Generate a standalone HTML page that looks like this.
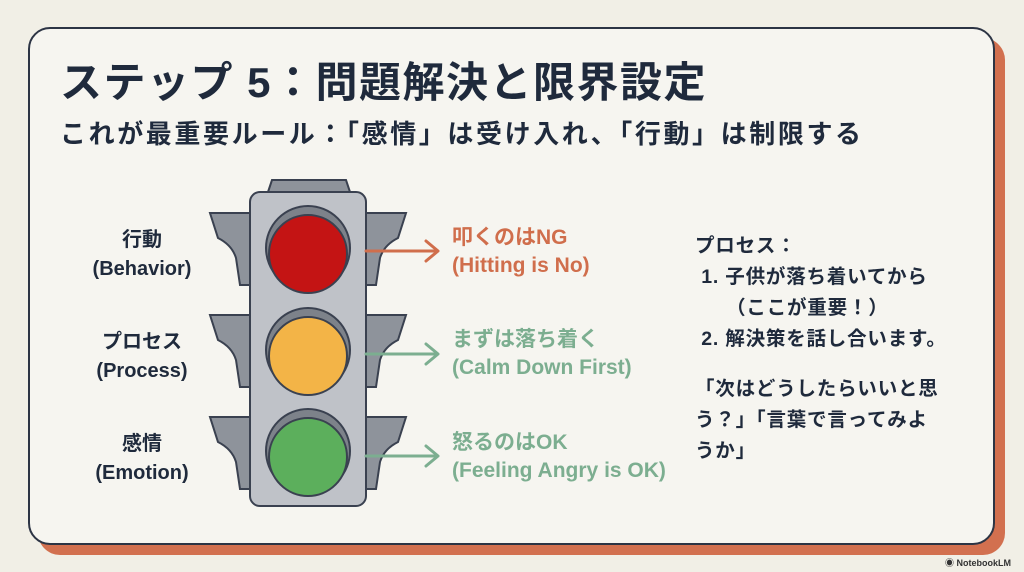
<!DOCTYPE html>
<html><head><meta charset="utf-8"><style>
body{margin:0;width:1024px;height:572px;background:#f1efe6;position:relative;overflow:hidden;font-family:"Liberation Sans","Noto Sans CJK JP",sans-serif;color:#1f2a3c}
.sh{position:absolute;left:38px;top:38px;width:967px;height:517px;background:#d2704f;border-radius:22px}
.card{position:absolute;left:28px;top:27px;width:963px;height:514px;background:#f6f5f0;border:2px solid #2c3444;border-radius:22px}
.t{position:absolute;white-space:nowrap;font-weight:bold}
</style></head><body>
<div class="sh"></div><div class="card"></div>
<div class="t" style="left:60px;top:49px;font-size:42px;letter-spacing:1.5px;color:#1f2a3c">ステップ 5：問題解決と限界設定</div>
<div class="t" style="left:60px;top:114px;font-size:26px;letter-spacing:2.6px">これが最重要ルール：「感情」は受け入れ、「行動」は制限する</div>
<svg style="position:absolute;left:0;top:0" width="1024" height="572">
<g fill="#8e939b" stroke="#3a4150" stroke-width="2">
<path d="M268 192 L272 180 H346 L350 192 Z"/>
<g id="w"><path d="M250 213 H210 L218 238 Q232 245 236 258 L240 285 H250 Z"/><path d="M366 213 H406 L398 238 Q384 245 380 258 L376 285 H366 Z"/></g>
<use href="#w" y="102"/><use href="#w" y="204"/>
</g>
<rect x="250" y="192" width="116" height="314" rx="10" fill="#bfc2c8" stroke="#3a4150" stroke-width="2"/>
<g stroke="#3a4150" stroke-width="2">
<circle cx="308" cy="248" r="42" fill="#7d828a"/><circle cx="308" cy="254" r="39" fill="#c41414"/>
<circle cx="308" cy="350" r="42" fill="#7d828a"/><circle cx="308" cy="356" r="39" fill="#f3b447"/>
<circle cx="308" cy="451" r="42" fill="#7d828a"/><circle cx="308" cy="457" r="39" fill="#5caf5c"/>
</g>
<g fill="none" stroke-width="3" stroke-linecap="round" stroke-linejoin="round">
<path d="M366 251 H436 M426 241 L438 251 L426 261" stroke="#d06e4c"/>
<path d="M366 354 H436 M426 344 L438 354 L426 364" stroke="#7cae90"/>
<path d="M366 456 H436 M426 446 L438 456 L426 466" stroke="#7cae90"/>
</g>
</svg>
<div class="t" style="left:78px;top:226px;width:128px;text-align:center;font-size:20px;line-height:29px">行動<br>(Behavior)</div>
<div class="t" style="left:78px;top:328px;width:128px;text-align:center;font-size:20px;line-height:29px">プロセス<br>(Process)</div>
<div class="t" style="left:78px;top:430px;width:128px;text-align:center;font-size:20px;line-height:29px">感情<br>(Emotion)</div>
<div class="t" style="left:452px;top:224px;font-size:21px;line-height:28px;color:#d06e4c">叩くのはNG<br>(Hitting is No)</div>
<div class="t" style="left:452px;top:326px;font-size:21px;line-height:28px;color:#7cae90">まずは落ち着く<br>(Calm Down First)</div>
<div class="t" style="left:452px;top:429px;font-size:21px;line-height:28px;color:#7cae90">怒るのはOK<br>(Feeling Angry is OK)</div>
<div class="t" style="left:695px;top:231px;font-size:19.5px;letter-spacing:0.8px;line-height:31px">プロセス：<br>&nbsp;1. 子供が落ち着いてから<br>&nbsp;&nbsp;&nbsp;&nbsp;&nbsp;（ここが重要！）<br>&nbsp;2. 解決策を話し合います。</div>
<div class="t" style="left:695px;top:374px;font-size:19.5px;letter-spacing:0.8px;line-height:31px">「次はどうしたらいいと思<br>う？」「言葉で言ってみよ<br>うか」</div>
<div class="t" style="left:945px;top:556px;font-size:9px;color:#333">◉ NotebookLM</div>
</body></html>
